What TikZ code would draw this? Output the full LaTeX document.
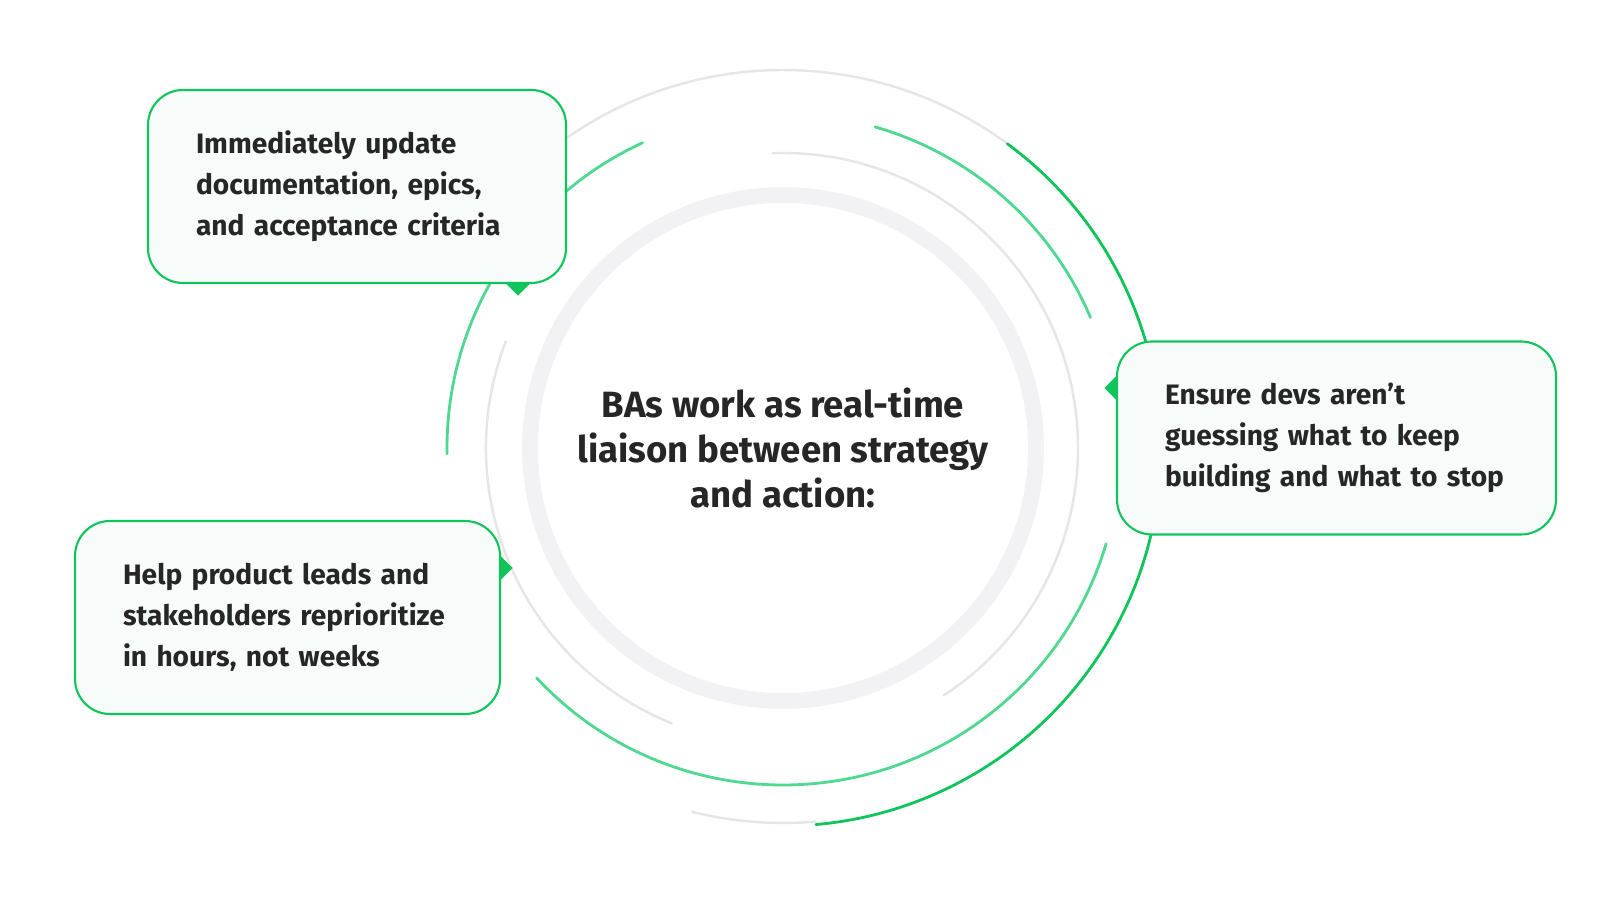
\documentclass[tikz,border=0pt]{standalone}
\usepackage{fontspec}
\setmainfont{Fira Sans}
\usetikzlibrary{shapes.geometric}
\definecolor{dkgreen}{HTML}{10C45C}
\definecolor{ltgreen}{HTML}{4FD890}
\definecolor{ringgray}{HTML}{E6E6E8}
\definecolor{thickgray}{HTML}{F2F2F4}
\definecolor{boxfill}{HTML}{F7FBFA}
\tikzset{card/.style={draw=dkgreen,fill=boxfill,rounded corners=0.35cm,line width=0.6pt,
                      align=left,inner xsep=0.48cm,minimum height=1.93cm,
                      font=\fontsize{8}{11.6}\selectfont\bfseries,text=black!85}}
\tikzset{pin/.style={diamond,fill=dkgreen,inner sep=0pt,minimum size=0.26cm}}
\begin{document}
\begin{tikzpicture}[line cap=round]
  \coordinate (c) at (7.83,4.68);

  % rings around the centre
  \draw[thickgray,line width=4.5pt] (c) circle (2.53);
  \draw[ringgray,line width=0.7pt] (c) ++(125:3.78) arc[start angle=125,end angle=53.6,radius=3.78];
  \draw[ringgray,line width=0.7pt] (c) ++(256:3.75) arc[start angle=256,end angle=275,radius=3.75];
  \draw[dkgreen,line width=0.8pt] (c) ++(53.6:3.78) arc[start angle=53.6,end angle=-85,radius=3.78];
  \draw[ltgreen,line width=0.8pt] (c) ++(114.7:3.36) arc[start angle=114.7,end angle=181,radius=3.36];
  \draw[ltgreen,line width=0.8pt] (c) ++(74:3.34) arc[start angle=74,end angle=23,radius=3.34];
  \draw[ltgreen,line width=0.8pt] (c) ++(-137:3.37) arc[start angle=-137,end angle=-16.5,radius=3.37];
  \draw[ringgray,line width=0.7pt] (c) ++(92:2.95) arc[start angle=92,end angle=-57,radius=2.95];
  \draw[ringgray,line width=0.7pt] (c) ++(159:2.97) arc[start angle=159,end angle=248,radius=2.97];

  % centre text
  \node (hub) at (7.83,4.68) [align=center,font=\fontsize{10.4}{12.8}\selectfont\bfseries,text=black!85]
    {BAs work as real-time\\liaison between strategy\\and action:};

  % pins, half hidden under the cards
  \node (docs-pin) at (5.18,6.33) [pin] {};
  \node (devs-pin) at (11.17,5.28) [pin] {};
  \node (leads-pin) at (5.00,3.48) [pin] {};

  % cards
  \node (docs) at (3.57,7.295) [card,text width=3.22cm]
    {Immediately update\\documentation, epics,\\and acceptance criteria};
  \node (devs) at (13.365,4.78) [card,text width=3.43cm]
    {Ensure devs aren’t\\guessing what to keep\\building and what to stop};
  \node (leads) at (2.875,2.985) [card,text width=3.29cm]
    {Help product leads and\\stakeholders reprioritize\\in hours, not weeks};

  \pgfresetboundingbox
  \path[use as bounding box] (0,0) rectangle (16,9.16);
\end{tikzpicture}
\end{document}
